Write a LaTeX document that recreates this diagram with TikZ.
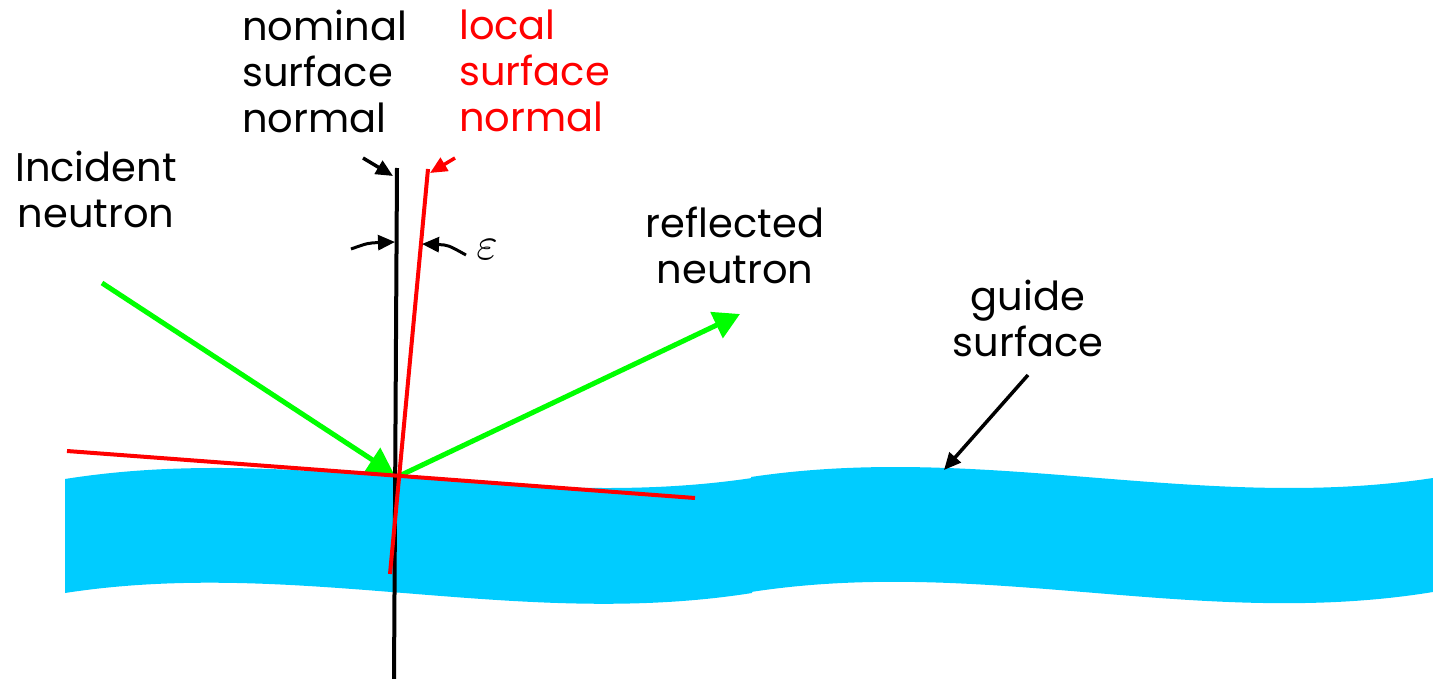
\documentclass[tikz,border=0pt]{standalone}
\usepackage{fontspec}
\setmainfont{Poppins}
\usetikzlibrary{arrows.meta}
\definecolor{guideblue}{RGB}{0,204,255}
\definecolor{nred}{RGB}{255,0,0}
\definecolor{ngreen}{RGB}{0,255,0}
\begin{document}
\begin{tikzpicture}[x=1pt,y=-1pt,
  lbl/.style={font=\fontsize{40}{46}\selectfont, inner sep=0pt},
  beam/.style={draw=ngreen, line width=5pt, -{Triangle[length=26pt,width=28pt]}},
  pointer/.style={draw=black, line width=3.5pt, -{Triangle[length=17pt,width=15pt]}},
  rpointer/.style={pointer, draw=nred, -{Triangle[length=17pt,width=15pt,fill=nred]}},
  nominalline/.style={draw=black, line width=4pt},
  localline/.style={draw=nred, line width=4pt}]
\useasboundingbox (0,0) rectangle (1433,679);
% guide surface pieces
\fill[guideblue] (65,479) .. controls (298,442) and (518,513) .. (752,478)
  -- (752,593) .. controls (518,630) and (298,557) .. (65,593) -- cycle;
\fill[guideblue] (751,477) .. controls (984,442) and (1201,513) .. (1433,478)
  -- (1433,592) .. controls (1201,630) and (984,556) .. (751,592) -- cycle;
% key points
\coordinate (O) at (397,477);
\coordinate (inS) at (102,283);
\coordinate (inE) at (394,474);
\coordinate (outE) at (740,314);
\coordinate (nomTop) at (397,168);
\coordinate (nomBot) at (394,679);
\coordinate (locTop) at (428,169);
\coordinate (locBot) at (390,574);
\coordinate (tanL) at (67,451);
\coordinate (tanR) at (695,498);
% neutron beams
\draw[beam] (inS) -- (inE);
\draw[beam] (O) -- (outE);
% normals and tangent
\draw[nominalline] (nomTop) -- (nomBot);
\draw[localline] (tanL) -- (tanR);
\draw[localline] (locTop) -- (locBot);
% labels
\node[lbl, align=left, anchor=north west] (nom) at (242,10) {nominal\\surface\\normal};
\node[lbl, align=left, anchor=north west, text=nred] (loc) at (459,10) {local\\surface\\normal};
\node[lbl, align=center, anchor=north] (inc) at (96,151) {Incident\\neutron};
\node[lbl, align=center, anchor=north] (refl) at (735,207) {reflected\\neutron};
\node[lbl, align=center, anchor=north] (guide) at (1028,280) {guide\\surface};
\node[inner sep=0pt, scale=4.6] (eps) at (487,250) {$\varepsilon$};
% pointers
\coordinate (p1s) at (363,158);
\coordinate (p1e) at (393,176);
\coordinate (p2s) at (455,158);
\coordinate (p2e) at (430,173);
\coordinate (e1s) at (351,249);
\coordinate (e1e) at (395,242);
\coordinate (e2s) at (466,255);
\coordinate (e2e) at (422,244);
\coordinate (gs) at (1028,375);
\coordinate (ge) at (944,470);
\draw[pointer] (p1s) -- (p1e);
\draw[rpointer] (p2s) -- (p2e);
\draw[pointer, line width=3pt] (e1s) .. controls (368,243) .. (e1e);
\draw[pointer, line width=3pt] (e2s) .. controls (448,245) .. (e2e);
\draw[pointer] (gs) -- (ge);
\end{tikzpicture}
\end{document}
